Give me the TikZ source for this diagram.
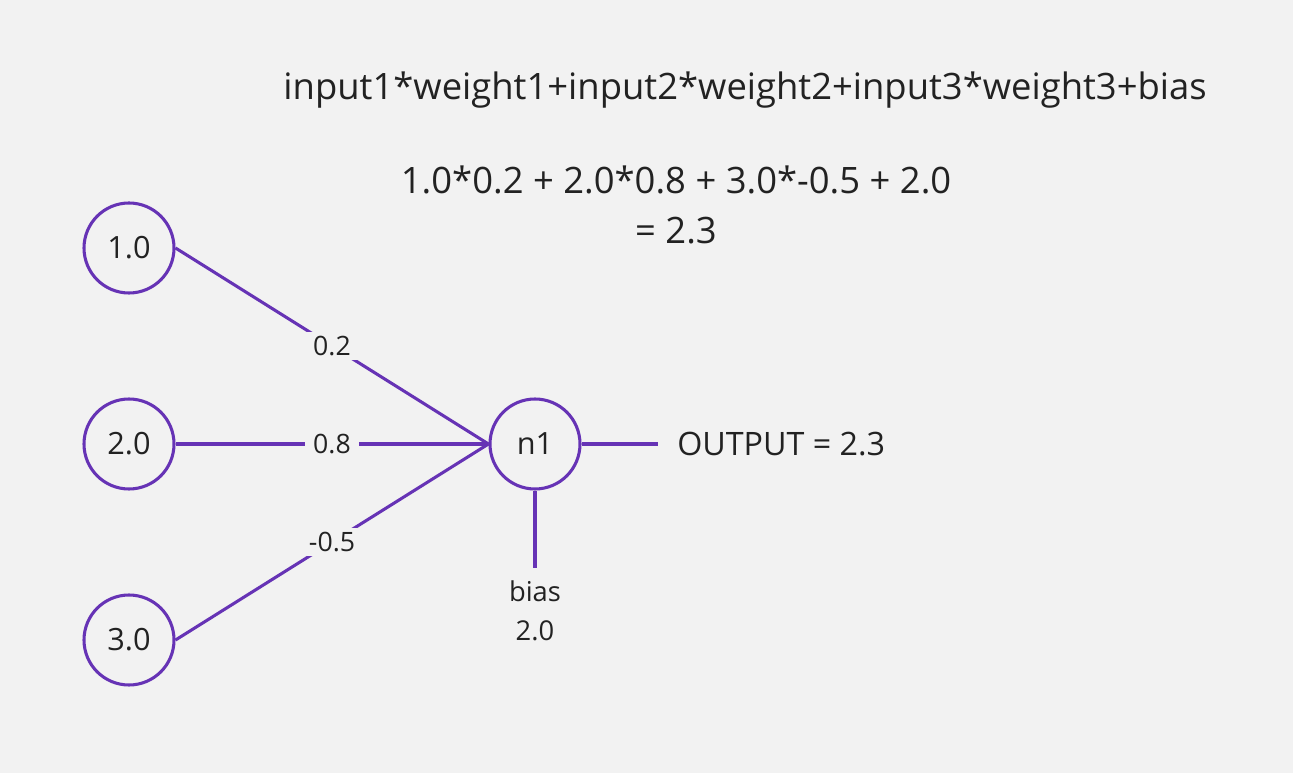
\documentclass[tikz,border=0pt]{standalone}
\usepackage{fontspec}
\setmainfont{Open Sans}
\definecolor{bg}{HTML}{F2F2F2}
\definecolor{pur}{HTML}{6633B5}
\definecolor{txt}{HTML}{222222}
\begin{document}
\begin{tikzpicture}[x=0.75pt,y=-0.75pt,
  neuron/.style={circle,draw=pur,line width=2.3pt,minimum size=67.5pt,inner sep=0pt,text=txt,font=\fontsize{23}{27}\selectfont},
  conn/.style={draw=pur,line width=2.3pt},
  wlabel/.style={fill=bg,text=txt,inner xsep=6pt,inner ysep=3pt,font=\fontsize{20}{24}\selectfont},
  big/.style={text=txt,font=\fontsize{27.3}{32}\selectfont,inner sep=0pt},
  outtxt/.style={text=txt,font=\fontsize{24.2}{29}\selectfont,inner sep=0pt},
  small/.style={text=txt,font=\fontsize{20.5}{24}\selectfont,inner sep=0pt}]
\fill[bg] (0,0) rectangle (1293,773);
\useasboundingbox (0,0) rectangle (1293,773);
\node[neuron] (i1) at (129,248) {1.0};
\node[neuron] (i2) at (129,444) {2.0};
\node[neuron] (i3) at (129,640) {3.0};
\node[neuron] (n1) at (535,444) {n1};
\draw[conn] (i1.east) -- node[wlabel] (w1) {0.2} (n1.west);
\draw[conn] (i2.east) -- node[wlabel] (w2) {0.8} (n1.west);
\draw[conn] (i3.east) -- node[wlabel] (w3) {-0.5} (n1.west);
\coordinate (oend) at (658,444);
\draw[conn] (n1.east) -- (oend);
\node[outtxt,anchor=west] (out) at (677,444) {OUTPUT = 2.3};
\coordinate (bend) at (535,568);
\draw[conn] (n1.south) -- (bend);
\node[small] (bias) at (535,591) {bias};
\node[small] (bval) at (535,631) {2.0};
\node[big] (f1) at (745,90) {input1*weight1+input2*weight2+input3*weight3+bias};
\node[big] (f2) at (676,180) {1.0*0.2 + 2.0*0.8 + 3.0*-0.5 + 2.0};
\node[big] (f3) at (676,231) {= 2.3};
\end{tikzpicture}
\end{document}
